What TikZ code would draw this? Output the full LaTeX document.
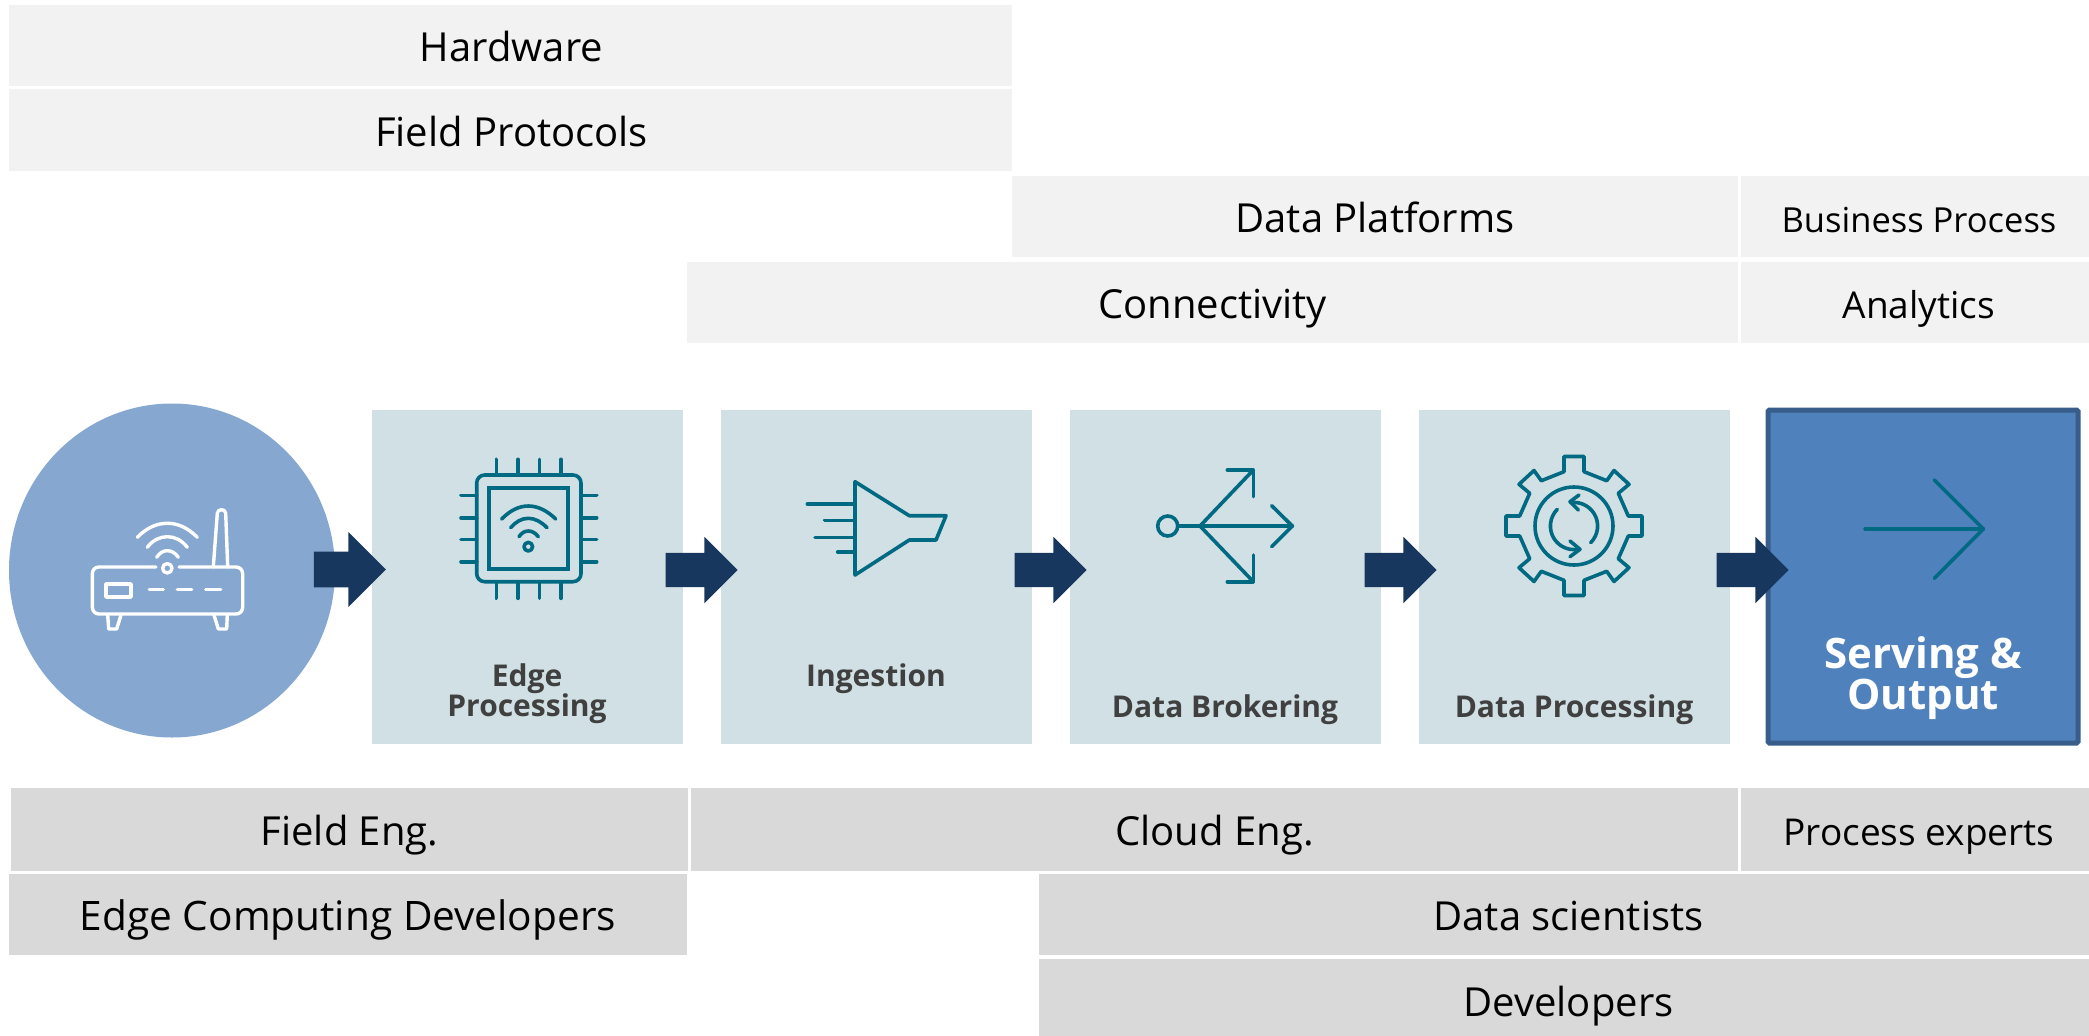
\documentclass[tikz,border=0pt]{standalone}
\usepackage{fontspec}
\setmainfont{Open Sans}
\usetikzlibrary{shapes.arrows,shapes.geometric}
\definecolor{topbar}{HTML}{F2F2F2}
\definecolor{lowbar}{HTML}{D9D9D9}
\definecolor{stage}{HTML}{D1E0E4}
\definecolor{disc}{HTML}{85A7D0}
\definecolor{navy}{HTML}{17375E}
\definecolor{teal}{HTML}{006A83}
\definecolor{servefill}{HTML}{4F81BD}
\definecolor{serveline}{HTML}{385D8A}
\definecolor{labelgrey}{HTML}{404040}
\tikzset{
  barbase/.style={inner sep=0pt,text=black,text height=35pt,text depth=3pt,font=\fontsize{40}{40}\selectfont},
  upbar/.style={barbase,fill=topbar},
  downbar/.style={barbase,fill=lowbar},
  narrowtext/.style={font=\fontsize{37}{37}\selectfont},
  stagebox/.style={fill=stage,inner sep=0pt,minimum width=311pt,minimum height=334pt},
  stagelabel/.style={inner sep=0pt,align=center,text=labelgrey,font=\fontsize{30}{31}\selectfont\bfseries},
  blockarrow/.style={single arrow,fill=navy,inner sep=17pt,minimum height=72pt,minimum width=66pt,single arrow head extend=16pt,single arrow head indent=0pt,single arrow tip angle=90,outer sep=0pt},
  tealicon/.style={draw=teal,line width=3.6pt,line cap=round,line join=round},
  whiteicon/.style={draw=white,line width=3.4pt,line cap=round,line join=round},
}
\begin{document}
\begin{tikzpicture}[x=1pt,y=-1pt]
\useasboundingbox (0,0) rectangle (2089,1036);
% top bars
\node[upbar,minimum width=1003pt,minimum height=81pt] (hw) at (510.5,45) {\hspace*{2pt}Hardware};
\node[upbar,minimum width=1003pt,minimum height=82pt] (fp) at (510.5,130) {\hspace*{2pt}Field Protocols};
\node[upbar,minimum width=726pt,minimum height=81pt] (dp) at (1375,216.5) {Data Platforms};
\node[upbar,font=\fontsize{34.5}{35}\selectfont,minimum width=348pt,minimum height=81pt] (bp) at (1915,216.5) {\hspace*{8pt}Business Process};
\node[upbar,minimum width=1051pt,minimum height=81pt] (cn) at (1212.5,302) {Connectivity};
\node[upbar,narrowtext,minimum width=348pt,minimum height=81pt] (an) at (1915,302) {\hspace*{8pt}Analytics};
% source disc
\node[fill=disc,ellipse,inner sep=0pt,minimum width=326pt,minimum height=334pt] (src) at (172,570.5) {};
% stages
\node[stagebox] (s1) at (527.5,576.5) {};
\node[stagebox] (s2) at (876.5,576.5) {};
\node[stagebox] (s3) at (1225,576.5) {};
\node[stagebox] (s4) at (1574,576.5) {};
\node[fill=servefill,draw=serveline,line width=5pt,rounded corners=1.5pt,inner sep=0pt,minimum width=310pt,minimum height=333pt] (s5) at (1923,576.5) {};
% labels
\node[stagelabel] (l1) at (527,694) {Edge\\[-1pt]Processing};
\node[stagelabel] (l2) at (876,679) {Ingestion};
\node[stagelabel] (l3) at (1225,710) {Data Brokering};
\node[stagelabel] (l4) at (1574,710) {Data Processing};
\node[stagelabel,text=white,font=\fontsize{42}{40}\selectfont\bfseries] (l5) at (1923,678) {Serving \&\\Output};
% block arrows
\node[blockarrow,minimum width=75pt,minimum height=72pt,single arrow head extend=19pt] (a1) at (341,569.5) {};
\node[blockarrow] (a2) at (693,570) {};
\node[blockarrow] (a3) at (1042,570) {};
\node[blockarrow] (a4) at (1392,570) {};
\node[blockarrow] (a5) at (1744,570) {};
% bottom bars
\node[downbar,minimum width=677pt,minimum height=83pt] (fe) at (349.5,829) {Field Eng.};
\node[downbar,minimum width=1047pt,minimum height=83pt] (ce) at (1214.5,829) {Cloud Eng.};
\node[downbar,narrowtext,minimum width=348pt,minimum height=83pt] (pe) at (1915,829) {\hspace*{8pt}Process experts};
\node[downbar,font=\fontsize{40.6}{41}\selectfont,minimum width=678pt,minimum height=81pt] (ed) at (348,914) {Edge Computing Developers};
\node[downbar,minimum width=1050pt,minimum height=81pt] (ds) at (1564,914) {\hspace*{9pt}Data scientists};
\node[downbar,text height=41pt,minimum width=1050pt,minimum height=77pt] (dv) at (1564,997.5) {\hspace*{9pt}Developers};
% router icon
\draw[whiteicon] (156,567) -- (99,567) .. controls (95,567) and (92.3,570) .. (92.3,574) -- (92.3,607) .. controls (92.3,611) and (95,614) .. (99,614) -- (236,614) .. controls (240,614) and (242.7,611) .. (242.7,607) -- (242.7,574) .. controls (242.7,570) and (240,567) .. (236,567) -- (179,567);
\draw[whiteicon] (167.3,568.3) circle[radius=4.7];
\draw[whiteicon] (106,584) rectangle (131,597);
\draw[whiteicon] (149.3,589.3) -- (163.3,589.3) (177.3,589.3) -- (191.7,589.3) (205.7,589.3) -- (220.7,589.3);
\draw[whiteicon] (137.3,537.3) .. controls (147,527.5) and (157,523.3) .. (167.3,523.3) .. controls (177.6,523.3) and (187.6,527.5) .. (197.3,537.3);
\draw[whiteicon] (147.3,547.3) .. controls (153,540) and (160,536.7) .. (167.3,536.7) .. controls (174.6,536.7) and (181.6,540) .. (187.3,547.3);
\draw[whiteicon] (156.7,557.3) .. controls (159.5,553) and (163,550.7) .. (167.3,550.7) .. controls (171.6,550.7) and (175.5,553) .. (178.3,557.3);
\draw[whiteicon] (213.3,567) -- (217.3,513.3) .. controls (217.5,508.5) and (225.5,508.5) .. (225.7,513.3) -- (227.7,567);
\draw[whiteicon] (107.7,615) -- (108.7,629) -- (116.7,629) -- (121,615);
\draw[whiteicon] (214,615) -- (218.3,629) -- (226.7,629) -- (227.3,615);
% chip icon
\draw[tealicon,rounded corners=8pt] (476.7,475) rectangle (581,581.7);
\draw[tealicon,line cap=butt,line join=miter,line width=3.8pt] (489.3,488.3) rectangle (568.3,569.3);
\foreach \px in {496.3,518,539.3,561}{
  \draw[tealicon] (\px,459.3) -- (\px,475);
  \draw[tealicon] (\px,581.7) -- (\px,598.3);
}
\foreach \py in {495.3,517.7,539.3,561.7}{
  \draw[tealicon] (461,\py) -- (476.7,\py);
  \draw[tealicon] (581,\py) -- (596.7,\py);
}
\draw[tealicon] (501.7,519) .. controls (510,510.5) and (519,506) .. (528.3,506) .. controls (537.6,506) and (547,510.5) .. (555.7,519);
\draw[tealicon] (510.7,527.7) .. controls (515.5,522) and (521.5,518.3) .. (528.3,518.3) .. controls (535.1,518.3) and (541.5,522) .. (547,527.7);
\draw[tealicon] (519,536.7) .. controls (521.5,533) and (524.5,531) .. (528.3,531) .. controls (532.1,531) and (535.5,533) .. (538.3,536.7);
\draw[tealicon] (528.3,546.7) circle[radius=4.3];
% funnel icon
\draw[tealicon] (855,481.7) -- (909.3,515.7) -- (946,515.7) -- (936,540) -- (909.3,540) -- (855,575) -- cycle;
\draw[tealicon] (807.3,504) -- (855,504) (824.7,520.3) -- (855,520.3) (815,537.3) -- (855,537.3) (837.7,552) -- (855,552);
% broker icon
\draw[tealicon] (1167.7,526) circle[radius=10];
\draw[tealicon] (1178,526) -- (1292.3,526);
\draw[tealicon] (1271.7,505.7) -- (1292.3,526) -- (1271.7,546.7);
\draw[tealicon] (1200,526) -- (1253.3,470);
\draw[tealicon] (1227.3,470) -- (1253.3,470) -- (1253.3,496.7);
\draw[tealicon] (1200,526) -- (1253.3,581.7);
\draw[tealicon] (1227.3,581.7) -- (1253.3,581.7) -- (1253.3,555);
% gear icon
\begin{scope}[shift={(1574,526)}]
\draw[tealicon] (10,-69.5) -- (10,-54.3) -- (32.7,-45.3) -- (40,-55.5) -- (55,-41.7) -- (44.3,-32.7) -- (54.3,-10) -- (68,-10)
  -- (68,10) -- (54.3,10) -- (44.3,32.7) -- (55,41.7) -- (40,55.5) -- (32.7,45.3) -- (10,54.3) -- (10,69.5)
  -- (-10,69.5) -- (-10,54.3) -- (-32.7,45.3) -- (-40,55.5) -- (-55,41.7) -- (-44.3,32.7) -- (-54.3,10) -- (-68,10)
  -- (-68,-10) -- (-54.3,-10) -- (-44.3,-32.7) -- (-55,-41.7) -- (-40,-55.5) -- (-32.7,-45.3) -- (-10,-54.3) -- (-10,-69.5) -- cycle;
\draw[tealicon] (0,0) circle[radius=39];
\draw[tealicon] plot[smooth,domain=135:280,samples=16] ({23.6*cos(\x)},{-23.6*sin(\x)});
\draw[tealicon] plot[smooth,domain=-45:98,samples=16] ({23.6*cos(\x)},{-23.6*sin(\x)});
\draw[tealicon] (5,-31) -- (-4,-24.3) -- (4.3,-16);
\draw[tealicon] (-4,15) -- (6,23.3) -- (-4,30.7);
\end{scope}
% serving icon
\draw[tealicon] (1865,529) -- (1983.3,529);
\draw[tealicon] (1934.3,480) -- (1983.3,529) -- (1934.3,578.3);
\end{tikzpicture}
\end{document}
